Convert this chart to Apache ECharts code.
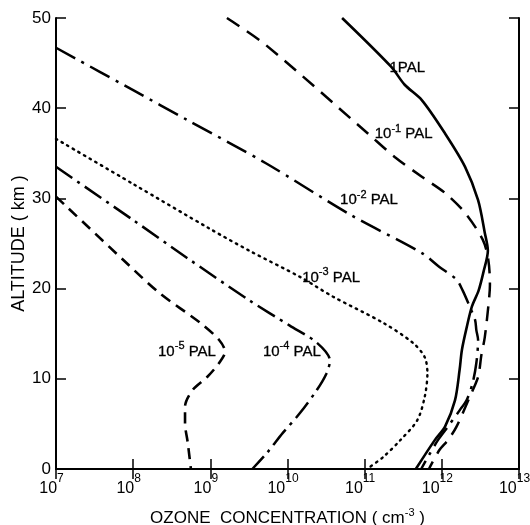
<!DOCTYPE html>
<html>
<head>
<meta charset="utf-8">
<style>
  html, body { margin: 0; padding: 0; background: #fff; }
  #chart { width: 530px; height: 525px; }
</style>
<script src="https://cdn.jsdelivr.net/npm/echarts@6/dist/echarts.min.js"></script>
</head>
<body>
<div id="chart"></div>
<script>
// Ozone number density profiles (cm^-3) versus altitude (km)
// for oxygen levels relative to the present atmospheric level (PAL).

const xMin = 1e7;
const xMax = 1e13;
const yTicks = [0, 10, 20, 30, 40, 50];

// [concentration, altitude]
const pal1 = [
  [5.1e10, 50], [2.2e11, 44.6], [3.3e11, 42.6], [5.5e11, 40.9], [1.1e12, 37.2],
  [2.0e12, 33.5], [2.95e12, 29.8], [3.6e12, 26.2], [3.95e12, 24.2], [3.5e12, 22.0],
  [3.0e12, 19.8], [2.45e12, 18.0], [2.1e12, 15.7], [1.82e12, 13.2], [1.7e12, 11.0],
  [1.48e12, 7.6], [1.1e12, 4.7], [8.1e11, 3.2], [4.6e11, 0]
];
const palE1 = [
  [1.64e9, 50], [5.25e9, 47.0], [1.1e11, 37.2], [2.45e11, 34.6], [5.5e11, 32.4],
  [1.1e12, 30.6], [2.0e12, 28.4], [3.4e12, 25.4], [4.0e12, 23.2], [4.2e12, 20.4],
  [4.0e12, 18.0], [3.6e12, 14.6], [3.25e12, 12.6], [2.95e12, 10.2], [2.3e12, 8.0],
  [1.55e12, 4.7], [1.2e12, 3.2], [9.3e11, 2.1], [6.8e11, 0]
];
const palE2 = [
  [1.0e7, 46.7], [1.0e8, 42.0], [5.0e8, 38.7], [5.25e9, 33.9], [6.5e10, 28.2],
  [5.6e11, 23.9], [9.3e11, 22.4], [1.55e12, 21.0], [1.86e12, 19.8], [2.3e12, 18.0],
  [2.7e12, 16.5], [2.8e12, 15.4], [2.95e12, 14.3], [2.8e12, 11.75], [2.5e12, 9.5],
  [2.1e12, 7.65], [1.7e12, 6.5], [1.2e12, 4.7], [8.9e11, 3.2], [6.6e11, 1.33],
  [5.4e11, 0]
];
const palE3 = [
  [1.0e7, 36.6], [1.0e8, 31.6], [1.0e9, 26.6], [3.2e9, 24.2], [1.45e10, 21.3],
  [3.9e10, 19.1], [1.74e11, 16.2], [4.2e11, 14.0], [6.0e11, 12.4], [6.5e11, 10.6],
  [6.0e11, 8.0], [4.8e11, 5.4], [2.9e11, 3.2], [1.74e11, 1.33], [1.07e11, 0]
];
const palE4 = [
  [1.0e7, 33.5], [1.0e8, 27.6], [5.0e8, 23.4], [3.2e9, 18.7], [1.07e10, 15.9],
  [2.4e10, 14.0], [3.55e10, 12.0], [3.2e10, 10.6], [2.4e10, 8.76], [1.45e10, 6.2],
  [8.7e9, 4.0], [5.4e9, 1.77], [3.5e9, 0]
];
const palE5 = [
  [1.0e7, 30.2], [7.4e7, 23.2], [2.2e8, 19.5], [7.4e8, 16.2], [1.3e9, 14.3],
  [1.55e9, 13.0], [1.3e9, 11.75], [9.1e8, 10.2], [5.9e8, 8.76], [4.7e8, 6.9],
  [4.7e8, 5.1], [5.1e8, 2.9], [5.6e8, 0]
];

// curve names: [mantissa text, exponent text]
const curveNames = [['1', ''], ['10', '-1'], ['10', '-2'], ['10', '-3'], ['10', '-4'], ['10', '-5']];
// where each curve name sits: [concentration, altitude]
const nameAnchors = [
  [2.1e11, 44.5], [1.35e11, 37.1], [4.8e10, 29.8], [1.55e10, 21.2], [4.8e9, 13.0], [2.1e8, 13.0]
];

const FONT = "'Liberation Sans', Arial, sans-serif";
const INK = '#000';

function curve(data, type, width, cap) {
  return {
    type: 'line',
    xAxisIndex: 0,
    yAxisIndex: 0,
    data: data,
    showSymbol: false,
    symbol: 'none',
    smooth: 0.3,
    silent: true,
    animation: false,
    lineStyle: { color: INK, width: width, type: type, cap: cap || 'butt' }
  };
}

const richLabel = {
  b: { fontFamily: FONT, fontSize: 15, color: INK, lineHeight: 22, verticalAlign: 'middle',
       textBorderColor: INK, textBorderWidth: 0.3 },
  s: { fontFamily: FONT, fontSize: 11, color: INK, lineHeight: 22, verticalAlign: 'top',
       textBorderColor: INK, textBorderWidth: 0.3 }
};

const nameSeries = {
  type: 'scatter',
  xAxisIndex: 0,
  yAxisIndex: 0,
  symbolSize: 0,
  silent: true,
  animation: false,
  itemStyle: { color: INK, opacity: 1 },
  data: nameAnchors,
  label: {
    show: true,
    position: 'right',
    distance: 0,
    color: INK,
    opacity: 1,
    formatter: function (params) {
      const nm = curveNames[params.dataIndex];
      return nm[1] ? '{b|' + nm[0] + '}{s|' + nm[1] + '}{b| PAL}' : '{b|' + nm[0] + 'PAL}';
    },
    rich: richLabel
  }
};

const tickRich = {
  b: { fontFamily: FONT, fontSize: 16, color: INK, lineHeight: 24, verticalAlign: 'bottom' },
  s: { fontFamily: FONT, fontSize: 12, color: INK, lineHeight: 24, verticalAlign: 'top' },
  t: { fontFamily: FONT, fontSize: 17, color: INK },
  u: { fontFamily: FONT, fontSize: 11, color: INK, verticalAlign: 'top', lineHeight: 22 }
};

const chart = echarts.init(document.getElementById('chart'), null, { renderer: 'canvas' });

chart.setOption({
  backgroundColor: '#fff',
  animation: false,
  grid: { left: 56, right: 11, top: 18, bottom: 56, containLabel: false, outerBoundsMode: 'none' },
  xAxis: [
    {
      type: 'log',
      logBase: 10,
      min: xMin,
      max: xMax,
      splitNumber: 6,
      position: 'bottom',
      name: '{t|OZONE  CONCENTRATION ( cm}{u|-3}{t| )}',
      nameLocation: 'middle',
      nameGap: 38,
      nameMoveOverlap: false,
      nameTextStyle: { rich: tickRich },
      axisLine: { lineStyle: { color: INK, width: 2 } },
      axisTick: { inside: true, length: 10, lineStyle: { color: INK, width: 1.5 } },
      splitLine: { show: false },
      axisLabel: {
        margin: 4,
        color: INK,
        padding: [0, 9, 0, 0],
        formatter: function (v) {
          const e = Math.round(Math.log10(v));
          return '{b|10}{s|' + e + '}';
        },
        rich: tickRich
      }
    },
    {
      type: 'log',
      logBase: 10,
      min: xMin,
      max: xMax,
      splitNumber: 6,
      position: 'top',
      axisLine: { lineStyle: { color: INK, width: 2 } },
      axisTick: { inside: true, length: 10, lineStyle: { color: INK, width: 1.5 } },
      axisLabel: { show: false },
      splitLine: { show: false }
    }
  ],
  yAxis: [
    {
      type: 'value',
      min: yTicks[0],
      max: yTicks[yTicks.length - 1],
      interval: 10,
      position: 'left',
      name: 'ALTITUDE ( km )',
      nameLocation: 'middle',
      nameGap: 28,
      nameMoveOverlap: false,
      nameTextStyle: { fontFamily: FONT, fontSize: 18, color: INK },
      axisLine: { show: true, lineStyle: { color: INK, width: 2 } },
      axisTick: { show: true, inside: true, length: 10, lineStyle: { color: INK, width: 1.5 } },
      splitLine: { show: false },
      axisLabel: { margin: 5, color: INK, fontFamily: FONT, fontSize: 17 }
    },
    {
      type: 'value',
      min: yTicks[0],
      max: yTicks[yTicks.length - 1],
      interval: 10,
      position: 'right',
      axisLine: { show: true, lineStyle: { color: INK, width: 2 } },
      axisTick: { show: true, inside: true, length: 10, lineStyle: { color: INK, width: 1.5 } },
      axisLabel: { show: false },
      splitLine: { show: false }
    }
  ],
  series: [
    curve(pal1, 'solid', 2.6),
    curve(palE1, [15, 9], 2.5),
    curve(palE2, [22, 7, 3, 7], 2.5),
    curve(palE3, [1.5, 5], 2.4, 'round'),
    curve(palE4, [20, 6, 3, 6], 2.5),
    curve(palE5, [11, 7], 2.6),
    nameSeries
  ]
});
</script>
</body>
</html>
